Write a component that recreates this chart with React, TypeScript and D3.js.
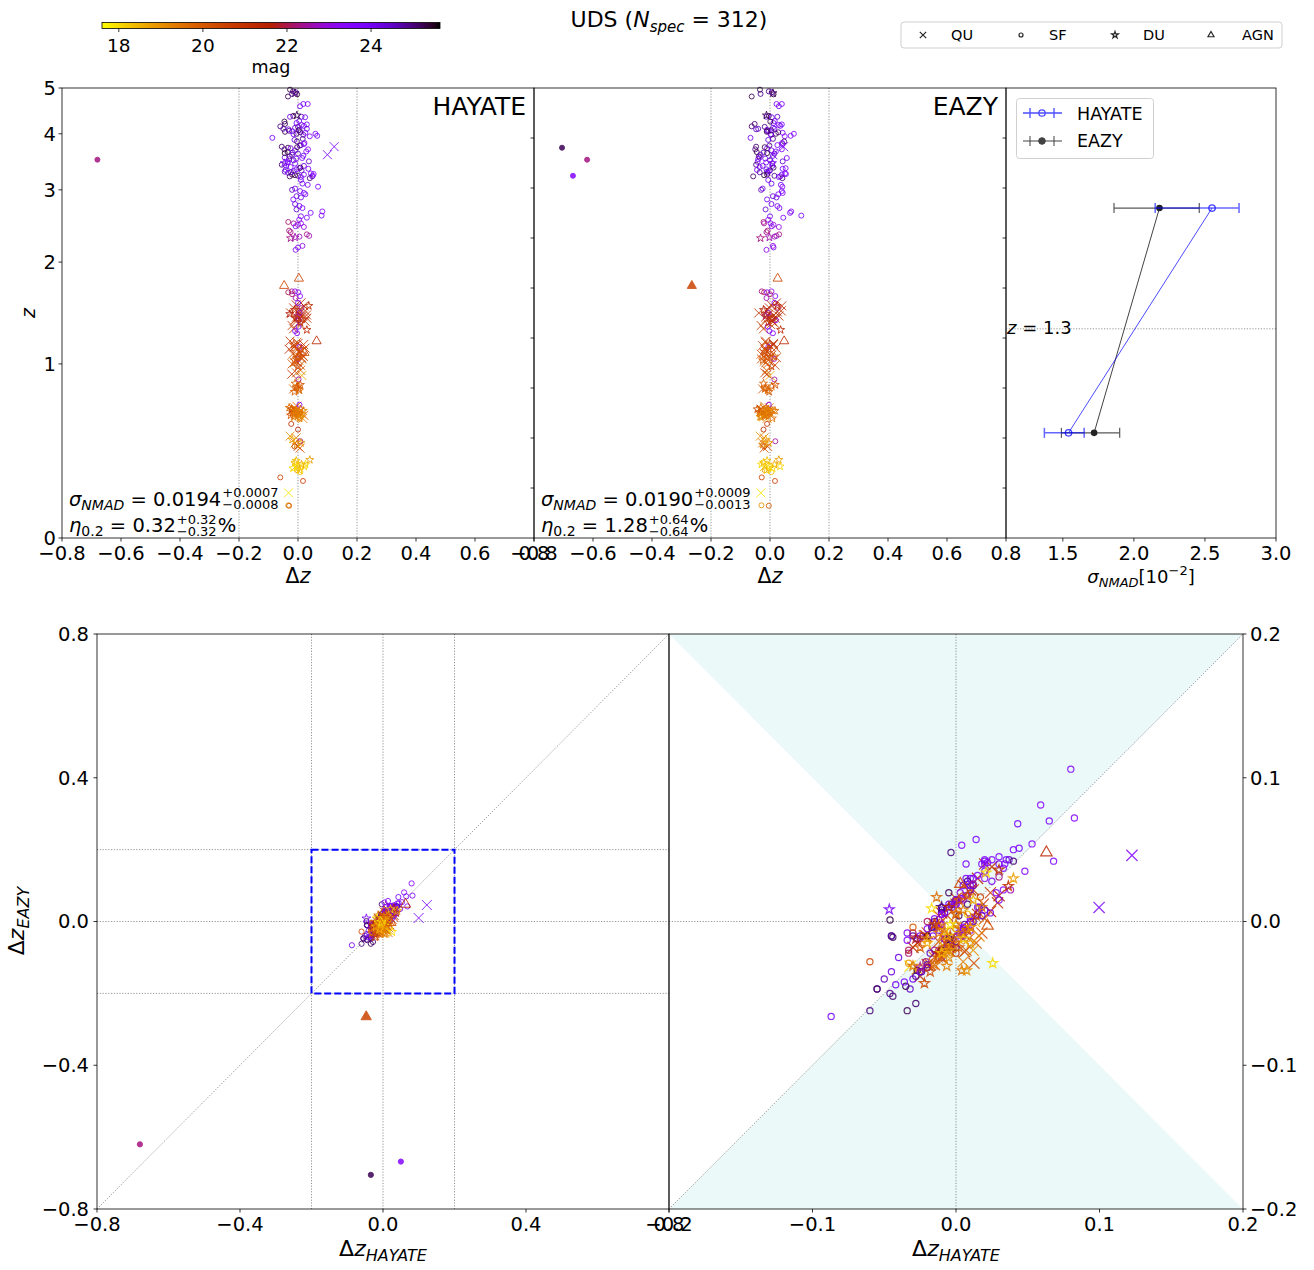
import React, { useLayoutEffect, useRef, useState } from "react";
import * as d3 from "d3";

const FONT = "DejaVu Sans, Verdana, sans-serif";

// ---------------- data ----------------
// colour scale (mag) – gnuplot_r
const magDomain = [17.6, 25.64];
const colorbarTicks = [18, 20, 22, 24];

// rows: [zSpec, dzHayate, dzEazy, mag]
const quiescent: number[][] = [
  [3.6, 0.0997, 0.0098, 23.8], [3.75, 0.1226, 0.046, 23.6],
  [1.55, 0.01, 0.022, 21.5], [1.52, 0.02, 0.04, 21.2], [1.5, -0.015, -0.002, 21.0], [1.48, 0.005, -0.008, 21.8],
  [1.45, -0.025, -0.038, 20.9], [1.42, 0.015, 0.03, 21.4], [1.4, 0.03, 0.018, 21.3], [1.38, -0.01, 0.006, 21.6],
  [1.35, 0.0, 0.016, 21.0], [1.33, -0.02, -0.03, 20.8], [1.47, 0.025, 0.038, 21.1], [1.3, -0.015, -0.022, 20.7],
  [1.43, 0.029, 0.013, 21.0], [1.37, 0.024, 0.007, 21.2], [1.46, 0.005, 0.025, 21.3], [1.41, -0.005, -0.015, 20.8],
  [1.39, -0.008, -0.012, 20.5], [1.44, 0.004, -0.004, 21.0], [1.34, 0.01, 0.002, 20.6], [1.53, -0.006, 0.004, 21.4],
  [1.19, -0.027, -0.015, 21.0], [1.15, -0.01, -0.025, 20.6], [1.13, 0.024, 0.02, 20.8], [1.1, 0.005, -0.012, 20.4],
  [1.08, -0.018, -0.03, 20.2], [1.05, 0.012, 0.022, 20.5], [1.02, -0.005, -0.02, 20.0], [0.99, 0.008, 0.017, 20.3],
  [1.12, -0.03, -0.018, 21.2], [1.07, 0.015, 0.005, 20.9], [1.0, -0.02, -0.008, 20.1], [1.17, 0.0, 0.012, 21.5],
  [1.04, 0.0125, -0.029, 20.2], [1.09, 0.006, -0.021, 20.6], [1.11, 0.014, -0.015, 20.0], [1.06, 0.018, -0.008, 20.4],
  [1.14, -0.012, 0.004, 20.7], [1.18, -0.004, -0.016, 20.3], [1.03, 0.002, -0.006, 19.9], [1.01, -0.012, -0.014, 20.2],
  [1.16, 0.019, 0.012, 20.9],
  [0.92, -0.021, -0.01, 21.0], [0.91, 0.013, 0.0, 18.6], [0.93, -0.005, -0.018, 20.4], [0.95, 0.009, -0.012, 19.8],
  [0.81, -0.015, -0.025, 20.0],
  [0.68, -0.012, -0.002, 19.5], [0.64, 0.012, -0.02, 19.0], [0.62, -0.008, -0.022, 18.7], [0.66, -0.022, -0.01, 20.0],
  [0.63, 0.02, 0.002, 19.8], [0.65, 0.005, -0.028, 19.3], [0.67, -0.015, -0.03, 19.8], [0.69, -0.004, -0.018, 19.6],
  [0.61, 0.016, -0.01, 19.2],
  [0.5, -0.027, -0.033, 19.0], [0.43, 0.007, -0.02, 20.0], [0.46, -0.01, -0.025, 19.5], [0.44, 0.0, -0.008, 20.3],
  [0.49, -0.006, -0.02, 19.4],
  [0.33, -0.008, -0.018, 18.4], [0.197, -0.032, -0.031, 17.9],
];

const starForming: number[][] = [
  [3.51, -0.68, -0.62, 22.3], [3.73, -0.034, -0.705, 25.2], [3.23, 0.05, -0.668, 23.5],
  [4.96, -0.027, -0.034, 25.3], [4.92, -0.017, -0.004, 25.0], [4.85, -0.003, 0.012, 25.4], [4.86, -0.02, -0.032, 24.9],
  [4.8, -0.034, -0.062, 25.2], [4.9, -0.008, 0.006, 24.6],
  [4.58, 0.007, 0.03, 24.0], [4.63, 0.018, 0.04, 23.8], [4.63, 0.033, 0.022, 23.5],
  [4.35, -0.027, -0.012, 24.2], [4.37, -0.016, -0.004, 25.0], [4.35, 0.012, 0.025, 24.5], [4.34, 0.024, 0.006, 23.9],
  [4.26, 0.004, 0.016, 24.0],
  [3.92, -0.087, -0.066, 23.8], [4.15, -0.06, -0.062, 25.0], [4.1, -0.05, -0.04, 24.6], [4.2, -0.044, -0.052, 25.1],
  [4.05, -0.02, -0.005, 23.6], [4.12, -0.01, 0.01, 24.2], [4.0, -0.005, 0.02, 25.2], [4.08, 0.005, -0.01, 23.9],
  [4.18, 0.012, 0.03, 23.5], [3.98, 0.018, 0.004, 24.4], [4.02, 0.025, 0.043, 23.7], [4.1, 0.03, 0.015, 24.0],
  [3.95, 0.04, 0.05, 23.6], [4.0, 0.059, 0.081, 23.4], [3.96, 0.065, 0.07, 23.8], [4.06, -0.03, -0.01, 24.8],
  [4.14, 0.0, -0.018, 24.9], [3.99, -0.015, 0.002, 23.9], [4.03, 0.008, 0.028, 25.0], [4.16, 0.02, 0.035, 24.1],
  [4.22, -0.005, 0.012, 23.7], [4.25, -0.046, 0.001, 25.3], [4.04, -0.044, -0.011, 25.2], [4.09, -0.032, -0.047, 24.5],
  [4.19, 0.03, 0.04, 23.9], [4.07, 0.002, 0.004, 25.1], [3.9, 0.016, 0.01, 24.9], [3.88, -0.012, -0.006, 24.3],
  [3.75, -0.055, -0.047, 25.1], [3.7, -0.046, -0.05, 24.9], [3.65, -0.035, -0.045, 25.3], [3.72, -0.025, -0.01, 24.0],
  [3.68, -0.01, 0.005, 23.6], [3.62, 0.0, 0.015, 24.5], [3.78, 0.01, 0.025, 23.8], [3.8, 0.02, 0.042, 24.2],
  [3.7, 0.034, 0.04, 23.5], [3.55, -0.045, -0.035, 24.3], [3.52, -0.03, -0.04, 23.9], [3.5, -0.015, 0.0, 24.7],
  [3.54, 0.014, 0.057, 23.7], [3.58, 0.018, 0.01, 24.1], [3.85, -0.0035, 0.048, 25.0], [3.66, 0.028, 0.02, 23.6],
  [3.6, -0.02, -0.032, 24.4], [3.74, -0.003, -0.018, 25.2], [3.63, -0.045, -0.01, 25.4], [3.57, -0.028, -0.038, 25.0],
  [3.82, 0.022, 0.041, 23.4], [3.48, 0.037, 0.043, 24.5], [3.46, -0.034, -0.013, 23.6], [3.47, -0.036, -0.042, 23.7],
  [3.77, 0.006, -0.002, 24.8], [3.53, -0.006, -0.016, 23.9], [3.64, -0.018, -0.022, 24.6],
  [3.42, -0.055, -0.047, 25.0], [3.4, -0.04, -0.025, 24.2], [3.38, -0.025, -0.035, 23.8], [3.44, -0.01, 0.008, 24.0],
  [3.36, 0.004, 0.053, 23.5], [3.4, 0.02, 0.008, 24.3], [3.35, 0.035, 0.043, 23.7], [3.3, -0.045, -0.01, 24.6],
  [3.28, -0.034, -0.008, 23.9], [3.25, -0.02, -0.01, 25.3], [3.22, -0.028, -0.057, 25.1], [3.24, -0.01, -0.02, 25.4],
  [3.23, 0.0, 0.015, 24.9], [3.21, 0.01, 0.03, 24.0], [3.25, 0.02, 0.04, 23.6], [3.27, 0.044, 0.051, 23.8],
  [3.22, 0.048, 0.035, 23.6], [3.26, 0.053, 0.054, 23.5], [3.32, 0.012, 0.0, 24.5], [3.34, -0.005, -0.012, 23.9],
  [3.33, -0.042, -0.044, 24.0], [3.29, -0.024, -0.035, 24.7], [3.19, 0.04, 0.042, 25.0], [3.31, -0.014, -0.004, 24.2],
  [3.37, 0.008, 0.012, 25.2], [3.16, 0.01, -0.006, 23.6],
  [3.05, 0.068, 0.042, 23.6], [3.02, -0.01, -0.025, 24.0], [2.98, 0.007, 0.04, 23.8], [2.95, 0.02, 0.043, 23.5],
  [2.9, -0.005, 0.01, 24.3], [3.08, 0.033, 0.037, 23.7], [2.88, 0.01, 0.022, 24.2], [3.0, -0.02, -0.03, 24.6],
  [2.93, 0.025, 0.028, 23.9], [3.1, 0.015, 0.005, 24.1], [2.85, -0.016, -0.01, 23.7],
  [2.61, 0.08, 0.106, 23.6], [2.67, 0.0825, 0.072, 23.5], [2.65, 0.043, 0.068, 23.8], [2.75, 0.005, 0.025, 24.0],
  [2.72, 0.015, 0.032, 23.7], [2.7, -0.005, -0.015, 24.4], [2.6, 0.01, 0.0, 23.9], [2.58, 0.03, 0.045, 23.6],
  [2.78, -0.01, 0.005, 24.2], [2.55, 0.004, -0.006, 23.3],
  [2.52, -0.033, -0.022, 22.2], [2.5, -0.015, -0.02, 22.5], [2.48, 0.0, 0.012, 22.8], [2.5, 0.01, 0.002, 23.2],
  [2.45, 0.02, 0.03, 23.0], [2.46, -0.008, 0.006, 23.5], [2.35, 0.03, 0.031, 22.3], [2.33, 0.038, 0.022, 22.6],
  [2.38, -0.025, -0.012, 22.4], [2.32, 0.005, 0.015, 22.7], [2.4, -0.03, -0.008, 22.2],
  [2.18, 0.0, 0.012, 23.8], [2.15, -0.008, -0.012, 23.2], [2.2, 0.015, 0.01, 23.0],
  [1.66, -0.033, -0.02, 22.0], [1.67, -0.021, -0.028, 22.3], [1.67, -0.01, 0.005, 23.0], [1.66, 0.001, -0.01, 23.5],
  [1.62, 0.007, 0.018, 23.3], [1.64, -0.02, 0.0, 22.1], [1.6, -0.008, -0.012, 22.6],
  [1.55, 0.0, 0.015, 23.6], [1.45, 0.005, -0.005, 22.8], [1.38, 0.003, 0.02, 23.4], [1.32, 0.002, -0.008, 23.8],
  [1.26, -0.003, 0.01, 23.6], [1.5, 0.012, 0.026, 22.3], [1.28, -0.01, -0.002, 23.5],
  [1.04, 0.0, 0.014, 22.5], [1.14, 0.005, -0.006, 23.0],
  [0.88, 0.002, 0.015, 22.5], [0.7, 0.005, -0.004, 23.3],
  [0.575, -0.023, -0.01, 21.0], [0.54, 0.0, -0.022, 21.3],
  [0.47, 0.008, 0.018, 22.5], [0.44, -0.012, -0.02, 20.5],
  [0.32, 0.0, -0.005, 18.5], [0.31, -0.003, -0.018, 19.0], [0.3, 0.008, 0.005, 18.3],
  [0.273, -0.06, -0.028, 20.5], [0.255, 0.017, 0.017, 20.6],
  [0.139, -0.033, -0.029, 19.0], [0.137, -0.03, -0.004, 20.0],
];

const dusty: number[][] = [
  [4.88, -0.01, 0.01, 25.1], [4.38, -0.004, -0.012, 25.3], [3.45, -0.0465, 0.0084, 23.8],
  [2.3, -0.025, -0.032, 22.3], [2.31, -0.01, -0.002, 22.6],
  [1.48, -0.012, -0.022, 21.4], [1.44, -0.028, -0.012, 21.7], [1.4, -0.005, 0.01, 21.2], [1.36, 0.008, -0.006, 21.0],
  [1.29, 0.03, 0.036, 21.3], [1.42, 0.0, -0.015, 22.1], [1.52, 0.0365, 0.0246, 21.2], [1.39, 0.014, 0.004, 21.1],
  [1.16, -0.015, -0.002, 20.7], [1.1, -0.008, -0.018, 20.2], [1.06, 0.002, 0.015, 20.0], [1.03, -0.012, -0.025, 19.9],
  [0.98, 0.0, 0.005, 20.4], [1.12, 0.01, -0.004, 20.6], [1.05, -0.004, -0.01, 20.1],
  [0.85, -0.01, -0.022, 19.8], [0.83, 0.0, 0.006, 19.5], [0.82, -0.005, -0.015, 20.0], [0.8, 0.005, -0.008, 19.6],
  [0.79, -0.012, -0.003, 19.9], [0.84, 0.008, 0.018, 20.2], [0.81, 0.002, -0.018, 19.8],
  [0.68, -0.03, -0.031, 19.5], [0.67, -0.02, -0.012, 19.0], [0.66, -0.01, -0.025, 19.8], [0.65, 0.0, -0.002, 19.3],
  [0.64, 0.01, -0.015, 18.8], [0.63, -0.025, -0.018, 20.0], [0.62, -0.015, -0.03, 19.6], [0.66, 0.018, 0.01, 19.2],
  [0.64, -0.005, -0.02, 18.9], [0.61, 0.005, 0.008, 19.4], [0.67, 0.008, -0.006, 19.7], [0.65, -0.018, -0.035, 20.3],
  [0.66, -0.0135, 0.0169, 19.6], [0.64, -0.0065, -0.031, 19.3], [0.65, 0.004, -0.034, 19.5], [0.62, 0.0074, -0.034, 19.0],
  [0.67, -0.022, -0.043, 20.4], [0.63, 0.002, -0.012, 19.4], [0.66, -0.008, -0.006, 19.0], [0.64, -0.012, -0.008, 19.5],
  [0.48, -0.02, -0.015, 18.7], [0.45, -0.005, -0.025, 19.2], [0.46, 0.01, -0.004, 18.9],
  [0.365, 0.04, 0.03, 18.8], [0.34, 0.0256, -0.029, 18.0], [0.33, 0.021, 0.034, 18.1], [0.32, -0.017, 0.009, 18.0],
  [0.35, -0.01, -0.022, 18.4], [0.33, -0.004, -0.002, 17.9], [0.31, 0.005, -0.012, 18.2], [0.34, 0.012, 0.015, 18.6],
  [0.36, -0.006, -0.01, 18.3],
];

const agn: number[][] = [
  [1.73, -0.047, -0.265, 20.5], [1.81, 0.003, 0.026, 20.5], [1.19, 0.063, 0.048, 21.3],
  [1.09, 0.022, -0.003, 20.3], [0.65, -0.008, -0.01, 19.5],
];

// sigma_NMAD in two redshift bins (units 1e-2)
const binZ = [0.52, 2.72];
const hayateNmad = [1.54, 2.55];
const hayateLo = [1.37, 2.15];
const hayateHi = [1.65, 2.74];
const eazyNmad = [1.72, 2.18];
const eazyLo = [1.49, 1.86];
const eazyHi = [1.9, 2.46];
const zSplit = 1.3;

const zTicks = [0, 1, 2, 3, 4, 5];
const dzTicks = [-0.8, -0.6, -0.4, -0.2, 0, 0.2, 0.4, 0.6, 0.8];
const sigmaTicks = [1.5, 2.0, 2.5, 3.0];
const wideTicks = [-0.8, -0.4, 0, 0.4, 0.8];
const zoomTicks = [-0.2, -0.1, 0, 0.1, 0.2];

const groups = [
  { kind: "QU", rows: quiescent },
  { kind: "SF", rows: starForming },
  { kind: "DU", rows: dusty },
  { kind: "AGN", rows: agn },
];

// ---------------- helpers ----------------
function gnuplotR(mag: number): string {
  const f = Math.min(1, Math.max(0, (mag - magDomain[0]) / (magDomain[1] - magDomain[0])));
  const t = 1 - f;
  const r = Math.sqrt(t);
  const g = t * t * t;
  const b = Math.max(0, Math.sin(2 * Math.PI * t));
  return d3.rgb(r * 255, g * 255, b * 255).formatHex();
}

const fmt = (v: number, d = 1) => (v < -1e-9 ? "\u2212" : "") + Math.abs(v).toFixed(d);

const GRID = { stroke: "#7a7a7a", strokeWidth: 0.8, strokeDasharray: "1.2,1.6" };
const TICK_FS = 19.5;

type MS = { x: number; c: number; star: number; tri: number; sw: number };
const topSize: MS = { x: 4.5, c: 2.5, star: 20, tri: 36, sw: 1 };
const blSize: MS = { x: 5, c: 2.6, star: 24, tri: 46, sw: 1 };
const brSize: MS = { x: 5.6, c: 3.1, star: 30, tri: 56, sw: 1.2 };

function Marker({ kind, x, y, color, filled, s }: any) {
  const common: any = { stroke: color, strokeWidth: s.sw, fill: filled ? color : "none", opacity: 0.85 };
  if (kind === "QU") {
    return (
      <path
        d={`M${x - s.x},${y - s.x}L${x + s.x},${y + s.x}M${x - s.x},${y + s.x}L${x + s.x},${y - s.x}`}
        {...common}
        fill="none"
      />
    );
  }
  if (kind === "SF") return <circle cx={x} cy={y} r={s.c} {...common} />;
  if (kind === "DU") {
    const d = d3.symbol().type(d3.symbolStar).size(s.star)() as string;
    return <path transform={`translate(${x},${y})`} d={d} {...common} />;
  }
  const d = d3.symbol().type(d3.symbolTriangle).size(s.tri)() as string;
  return <path transform={`translate(${x},${y})`} d={d} {...common} />;
}

function StatLine({ x, y, head, sup, sub, suffix }: any) {
  const mainRef = useRef<SVGTextElement>(null);
  const supRef = useRef<SVGTextElement>(null);
  const subRef = useRef<SVGTextElement>(null);
  const [w, setW] = useState([0, 0]);
  useLayoutEffect(() => {
    const a = mainRef.current ? mainRef.current.getComputedTextLength() : 0;
    const b = Math.max(
      supRef.current ? supRef.current.getComputedTextLength() : 0,
      subRef.current ? subRef.current.getComputedTextLength() : 0
    );
    setW([a, b]);
  }, []);
  return (
    <g fontFamily={FONT}>
      <text ref={mainRef} x={x} y={y} fontSize={19.5}>
        {head}
      </text>
      <text ref={supRef} x={x + w[0] + 1} y={y - 8.5} fontSize={13}>
        {sup}
      </text>
      <text ref={subRef} x={x + w[0] + 1} y={y + 3.5} fontSize={13}>
        {sub}
      </text>
      {suffix ? (
        <text x={x + w[0] + w[1] + 2} y={y} fontSize={19.5}>
          {suffix}
        </text>
      ) : null}
    </g>
  );
}

// ---------------- layout ----------------
const TOP = { y0: 88, y1: 538 };
const P1 = { x0: 62, x1: 534 };
const P2 = { x0: 534, x1: 1006 };
const P3 = { x0: 1006, x1: 1276 };
const BOT = { y0: 634, y1: 1209 };
const BL = { x0: 97, x1: 669 };
const BR = { x0: 669, x1: 1243 };

const zScale = d3.scaleLog().domain([1, 6]).range([TOP.y1, TOP.y0]);

function XTicks({ scale, values, y, digits = 1 }: any) {
  return (
    <g>
      {values.map((v: number, i: number) => (
        <g key={i}>
          <line x1={scale(v)} x2={scale(v)} y1={y} y2={y + 3.5} stroke="#000" strokeWidth={0.8} />
          <text x={scale(v)} y={y + 21.5} fontSize={TICK_FS} textAnchor="middle" fontFamily={FONT}>
            {fmt(v, digits)}
          </text>
        </g>
      ))}
    </g>
  );
}

function DzPanel({ box, idx, title, stat }: any) {
  const xs = d3.scaleLinear().domain([-0.8, 0.8]).range([box.x0, box.x1]);
  return (
    <g>
      {[-0.2, 0, 0.2].map((v) => (
        <line key={v} x1={xs(v)} x2={xs(v)} y1={TOP.y0} y2={TOP.y1} {...GRID} />
      ))}
      {groups.map((g) =>
        g.rows.map((r, i) => {
          const dz = r[idx];
          if (Math.abs(dz) > 0.8) return null;
          return (
            <Marker
              key={g.kind + i}
              kind={g.kind}
              x={xs(dz)}
              y={zScale(1 + r[0])}
              color={gnuplotR(r[3])}
              filled={Math.abs(dz) > 0.2}
              s={topSize}
            />
          );
        })
      )}
      <rect x={box.x0} y={TOP.y0} width={box.x1 - box.x0} height={TOP.y1 - TOP.y0} fill="none" stroke="#000" strokeWidth={0.8} />
      <text x={box.x1 - 8} y={115} fontSize={25} textAnchor="end" fontFamily={FONT}>
        {title}
      </text>
      <StatLine
        x={box.x0 + 7}
        y={505.5}
        head={
          <>
            <tspan fontStyle="italic">σ</tspan>
            <tspan fontStyle="italic" fontSize={14} dy={4}>NMAD</tspan>
            <tspan dy={-4}> = {stat[0]}</tspan>
          </>
        }
        sup={"+" + stat[1]}
        sub={"\u2212" + stat[2]}
      />
      <StatLine
        x={box.x0 + 7}
        y={532}
        head={
          <>
            <tspan fontStyle="italic">η</tspan>
            <tspan fontSize={14} dy={4}>0.2</tspan>
            <tspan dy={-4}> = {stat[3]}</tspan>
          </>
        }
        sup={"+" + stat[4]}
        sub={"\u2212" + stat[5]}
        suffix="%"
      />
      <XTicks scale={xs} values={dzTicks} y={TOP.y1} />
      <text x={xs(0)} y={583} fontSize={20.5} textAnchor="middle" fontFamily={FONT}>
        Δ<tspan fontStyle="italic">z</tspan>
      </text>
    </g>
  );
}

function SigmaPanel() {
  const xs = d3.scaleLinear().domain([1.1, 3.0]).range([P3.x0, P3.x1]);
  const hLine = binZ.map((z, i) => [xs(hayateNmad[i]), zScale(1 + z)] as [number, number]);
  const eLine = binZ.map((z, i) => [xs(eazyNmad[i]), zScale(1 + z)] as [number, number]);
  const line = d3.line();
  const err = (lo: number[], hi: number[], color: string, op: number, sw: number) =>
    binZ.map((z, i) => {
      const y = zScale(1 + z);
      return (
        <g key={i} stroke={color} strokeWidth={sw} opacity={op}>
          <line x1={xs(lo[i])} x2={xs(hi[i])} y1={y} y2={y} />
          <line x1={xs(lo[i])} x2={xs(lo[i])} y1={y - 5} y2={y + 5} />
          <line x1={xs(hi[i])} x2={xs(hi[i])} y1={y - 5} y2={y + 5} />
        </g>
      );
    });
  const ySplit = zScale(1 + zSplit);
  return (
    <g>
      <line x1={P3.x0} x2={P3.x1} y1={ySplit} y2={ySplit} {...GRID} />
      <text x={P3.x0 + 1} y={334} fontSize={18} fontFamily={FONT}>
        <tspan fontStyle="italic">z</tspan> = {zSplit}
      </text>
      {err(eazyLo, eazyHi, "#222", 0.75, 1.2)}
      <path d={line(eLine) as string} stroke="#222" strokeWidth={1} fill="none" opacity={0.85} />
      {eLine.map((p, i) => (
        <circle key={i} cx={p[0]} cy={p[1]} r={3.3} fill="#222" />
      ))}
      {err(hayateLo, hayateHi, "#0000ff", 0.6, 1.5)}
      <path d={line(hLine) as string} stroke="#0000ff" strokeWidth={1} fill="none" opacity={0.7} />
      {hLine.map((p, i) => (
        <circle key={i} cx={p[0]} cy={p[1]} r={3.2} fill="none" stroke="#0000ff" strokeWidth={1.3} opacity={0.75} />
      ))}
      <rect x={P3.x0} y={TOP.y0} width={P3.x1 - P3.x0} height={TOP.y1 - TOP.y0} fill="none" stroke="#000" strokeWidth={0.8} />
      {/* legend */}
      <rect x={1016.5} y={98.5} width={137} height={60} rx={3} fill="#fff" fillOpacity={0.8} stroke="#d0d0d0" strokeWidth={1} />
      <g stroke="#0000ff" opacity={0.7} strokeWidth={1.3}>
        <line x1={1023} x2={1062} y1={113} y2={113} />
        <line x1={1030} x2={1030} y1={108} y2={118} />
        <line x1={1054} x2={1054} y1={108} y2={118} />
        <circle cx={1042} cy={113} r={3.2} fill="none" />
      </g>
      <g stroke="#222" opacity={0.85} strokeWidth={1}>
        <line x1={1023} x2={1062} y1={141} y2={141} />
        <line x1={1030} x2={1030} y1={136} y2={146} />
        <line x1={1054} x2={1054} y1={136} y2={146} />
        <circle cx={1042} cy={141} r={3.3} fill="#222" />
      </g>
      <text x={1077} y={119.5} fontSize={17.5} fontFamily={FONT}>HAYATE</text>
      <text x={1077} y={147} fontSize={17.5} fontFamily={FONT}>EAZY</text>
      <XTicks scale={xs} values={sigmaTicks} y={TOP.y1} />
      <text x={(P3.x0 + P3.x1) / 2} y={583} fontSize={18} textAnchor="middle" fontFamily={FONT}>
        <tspan fontStyle="italic">σ</tspan>
        <tspan fontStyle="italic" fontSize={13} dy={4}>NMAD</tspan>
        <tspan dy={-4}>[10</tspan>
        <tspan fontSize={13} dy={-8}>−2</tspan>
        <tspan dy={8}>]</tspan>
      </text>
    </g>
  );
}

function ScatterPanel({ box, dom, ticks, size, right, clipId }: any) {
  const xs = d3.scaleLinear().domain([-dom, dom]).range([box.x0, box.x1]);
  const ys = d3.scaleLinear().domain([-dom, dom]).range([BOT.y1, BOT.y0]);
  return (
    <g>
      <defs>
        <clipPath id={clipId}>
          <rect x={box.x0} y={BOT.y0} width={box.x1 - box.x0} height={BOT.y1 - BOT.y0} />
        </clipPath>
      </defs>
      {right ? (
        <g fill="#ebf9f9">
          <path d={`M${xs(-dom)},${ys(dom)}L${xs(dom)},${ys(dom)}L${xs(0)},${ys(0)}Z`} />
          <path d={`M${xs(-dom)},${ys(-dom)}L${xs(dom)},${ys(-dom)}L${xs(0)},${ys(0)}Z`} />
        </g>
      ) : null}
      {(right ? [0] : [-0.2, 0, 0.2]).map((v) => (
        <g key={v}>
          <line x1={xs(v)} x2={xs(v)} y1={BOT.y0} y2={BOT.y1} {...GRID} />
          <line x1={box.x0} x2={box.x1} y1={ys(v)} y2={ys(v)} {...GRID} />
        </g>
      ))}
      <line x1={xs(-dom)} y1={ys(-dom)} x2={xs(dom)} y2={ys(dom)} {...GRID} />
      {!right ? (
        <rect
          x={xs(-0.2)}
          y={ys(0.2)}
          width={xs(0.2) - xs(-0.2)}
          height={ys(-0.2) - ys(0.2)}
          fill="none"
          stroke="#0000ff"
          strokeWidth={2}
          strokeDasharray="7,3"
        />
      ) : null}
      <g clipPath={`url(#${clipId})`}>
        {groups.map((g) =>
          g.rows.map((r, i) => (
            <Marker
              key={g.kind + i}
              kind={g.kind}
              x={xs(r[1])}
              y={ys(r[2])}
              color={gnuplotR(r[3])}
              filled={!right && (Math.abs(r[1]) > 0.2 || Math.abs(r[2]) > 0.2)}
              s={size}
            />
          ))
        )}
      </g>
      <rect x={box.x0} y={BOT.y0} width={box.x1 - box.x0} height={BOT.y1 - BOT.y0} fill="none" stroke="#000" strokeWidth={0.8} />
      <XTicks scale={xs} values={ticks} y={BOT.y1} />
      {ticks.map((v: number, i: number) =>
        right ? (
          <g key={i}>
            <line x1={box.x1} x2={box.x1 + 3.5} y1={ys(v)} y2={ys(v)} stroke="#000" strokeWidth={0.8} />
            <text x={box.x1 + 7} y={ys(v)} dy="0.35em" fontSize={TICK_FS} fontFamily={FONT}>
              {fmt(v)}
            </text>
          </g>
        ) : (
          <g key={i}>
            <line x1={box.x0 - 3.5} x2={box.x0} y1={ys(v)} y2={ys(v)} stroke="#000" strokeWidth={0.8} />
            <text x={box.x0 - 8} y={ys(v)} dy="0.35em" fontSize={TICK_FS} textAnchor="end" fontFamily={FONT}>
              {fmt(v)}
            </text>
          </g>
        )
      )}
      <text x={xs(0)} y={1256} fontSize={22} textAnchor="middle" fontFamily={FONT}>
        Δ<tspan fontStyle="italic">z</tspan>
        <tspan fontStyle="italic" fontSize={16} dy={5}>HAYATE</tspan>
      </text>
    </g>
  );
}

function Colorbar() {
  const x0 = 102, x1 = 440, y0 = 22.5, y1 = 28.5;
  const cs = d3.scaleLinear().domain(magDomain).range([x0, x1]);
  const stops = d3.range(0, 1.0001, 0.02);
  return (
    <g>
      <defs>
        <linearGradient id="cbar" x1="0" x2="1" y1="0" y2="0">
          {stops.map((s) => (
            <stop key={s} offset={s} stopColor={gnuplotR(magDomain[0] + s * (magDomain[1] - magDomain[0]))} />
          ))}
        </linearGradient>
      </defs>
      <rect x={x0} y={y0} width={x1 - x0} height={y1 - y0} fill="url(#cbar)" stroke="#000" strokeWidth={0.8} />
      {colorbarTicks.map((v) => (
        <g key={v}>
          <line x1={cs(v)} x2={cs(v)} y1={y1} y2={y1 + 3.5} stroke="#000" strokeWidth={0.8} />
          <text x={cs(v)} y={52} fontSize={18.5} textAnchor="middle" fontFamily={FONT}>
            {v}
          </text>
        </g>
      ))}
      <text x={(x0 + x1) / 2} y={73} fontSize={17.5} textAnchor="middle" fontFamily={FONT}>
        mag
      </text>
    </g>
  );
}

function TypeLegend() {
  const items = [
    { kind: "QU", mx: 923, tx: 951 },
    { kind: "SF", mx: 1021, tx: 1049 },
    { kind: "DU", mx: 1115, tx: 1143 },
    { kind: "AGN", mx: 1211, tx: 1242 },
  ];
  const small: MS = { x: 3.2, c: 2, star: 14, tri: 16, sw: 1.2 };
  return (
    <g>
      <rect x={901} y={22} width={381} height={26} rx={3} fill="#fff" stroke="#cfcfcf" strokeWidth={1} />
      {items.map((it) => (
        <g key={it.kind}>
          <Marker kind={it.kind} x={it.mx} y={35} color="#000" filled={false} s={small} />
          <text x={it.tx} y={40} fontSize={14.5} fontFamily={FONT}>
            {it.kind}
          </text>
        </g>
      ))}
    </g>
  );
}

export default function App() {
  const sideTicks = d3.range(1, 9).map((k) => TOP.y1 - 50 * k);
  return (
    <svg
      width={1314}
      height={1270}
      style={{ position: "absolute", left: 0, top: 0, background: "#fff" }}
      fontFamily={FONT}
    >
      <rect x={0} y={0} width={1314} height={1270} fill="#fff" />
      <text x={669} y={27} fontSize={22} textAnchor="middle" fontFamily={FONT}>
        UDS (<tspan fontStyle="italic">N</tspan>
        <tspan fontStyle="italic" fontSize={15} dy={5}>spec</tspan>
        <tspan dy={-5}> = 312)</tspan>
      </text>
      <Colorbar />
      <TypeLegend />

      <DzPanel box={P1} idx={1} title="HAYATE" stat={["0.0194", "0.0007", "0.0008", "0.32", "0.32", "0.32"]} />
      <DzPanel box={P2} idx={2} title="EAZY" stat={["0.0190", "0.0009", "0.0013", "1.28", "0.64", "0.64"]} />
      <SigmaPanel />

      {/* z axis of first panel */}
      {zTicks.map((z) => (
        <g key={z}>
          <line x1={P1.x0 - 3.5} x2={P1.x0} y1={zScale(1 + z)} y2={zScale(1 + z)} stroke="#000" strokeWidth={0.8} />
          <text x={P1.x0 - 6} y={zScale(1 + z)} dy="0.35em" fontSize={TICK_FS} textAnchor="end" fontFamily={FONT}>
            {z}
          </text>
        </g>
      ))}
      {[P2.x0, P3.x0].map((x) =>
        sideTicks.map((y) => <line key={x + "-" + y} x1={x - 3.5} x2={x} y1={y} y2={y} stroke="#000" strokeWidth={0.8} />)
      )}
      <text transform="translate(35,313) rotate(-90)" fontSize={19} textAnchor="middle" fontStyle="italic" fontFamily={FONT}>
        z
      </text>

      <ScatterPanel box={BL} dom={0.8} ticks={wideTicks} size={blSize} right={false} clipId="clipBL" />
      <ScatterPanel box={BR} dom={0.2} ticks={zoomTicks} size={brSize} right={true} clipId="clipBR" />
      <text transform="translate(24,921) rotate(-90)" fontSize={22} textAnchor="middle" fontFamily={FONT}>
        Δ<tspan fontStyle="italic">z</tspan>
        <tspan fontStyle="italic" fontSize={16} dy={5}>EAZY</tspan>
      </text>
    </svg>
  );
}
